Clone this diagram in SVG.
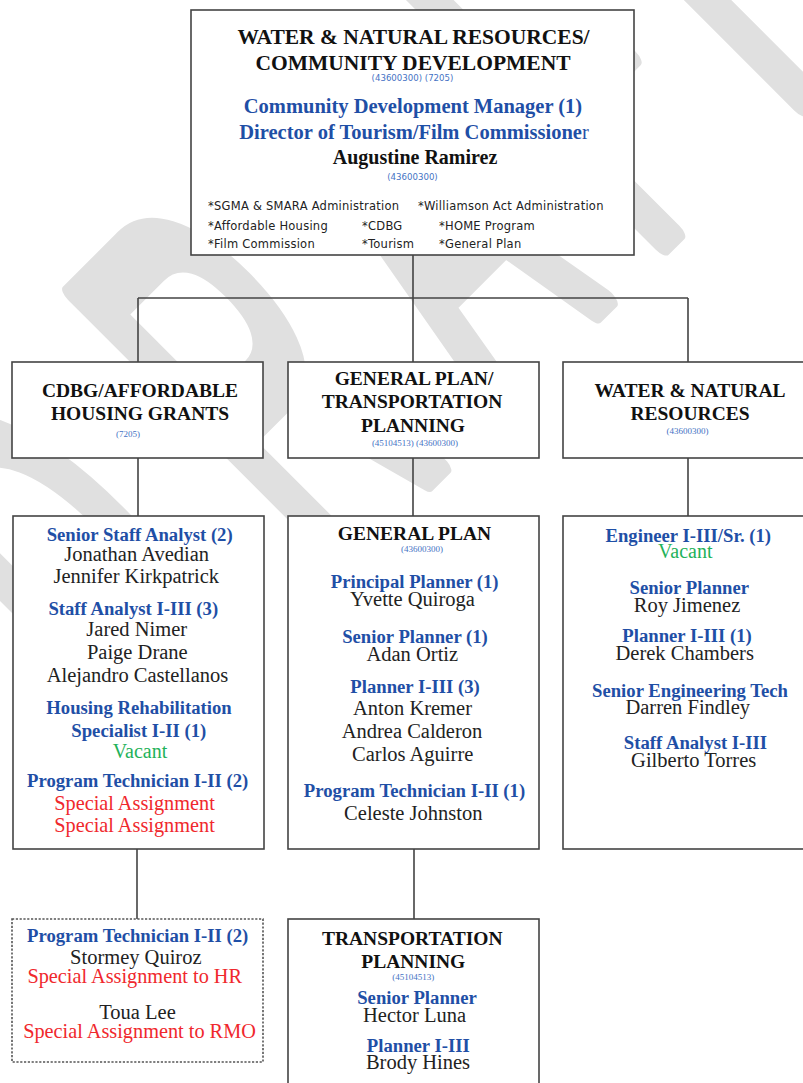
<svg xmlns="http://www.w3.org/2000/svg" width="803" height="1083" viewBox="0 0 803 1083">
<style>
.box{fill:#fff;stroke:#444;stroke-width:1.6}
.dash{fill:#fff;stroke:#555;stroke-width:1.6;stroke-dasharray:2.2 1.6}
.conn{fill:none;stroke:#444;stroke-width:1.6}
.wm{font-family:"Liberation Sans",sans-serif;font-size:552px;fill:#e0e0e0;stroke:#e0e0e0;stroke-width:20px;stroke-linejoin:round;vector-effect:non-scaling-stroke;text-anchor:start}
text{font-family:"Liberation Serif",serif;text-anchor:middle}
.h1{font-weight:bold;font-size:21.5px;fill:#111}
.tb{font-weight:bold;font-size:20.5px;fill:#1f4fa6}
.nb{font-weight:bold;font-size:20px;fill:#111}
.hd{font-weight:bold;font-size:19.5px;fill:#111}
.ttl{font-weight:bold;font-size:18.7px;fill:#1f4fa6}
.nm{font-size:20.5px;fill:#222}
.vac{font-size:20px;fill:#1fb25a}
.sa{font-size:20.3px;fill:#f0282d}
.code{font-size:9px;fill:#4472c4}
.cs{font-family:"DejaVu Sans",sans-serif;font-size:8.6px;fill:#4472c4}
.sm{font-family:"DejaVu Sans",sans-serif;font-size:11.5px;letter-spacing:0.25px;fill:#222;text-anchor:start}
</style>
<g id="watermark" transform="rotate(-45)">
<text class="wm" transform="translate(-439,640) scale(0.435,1)">D</text>
<text class="wm" transform="translate(-178,640) scale(0.435,1)">R</text>
<text class="wm" transform="translate(60,640) scale(0.435,1)">A</text>
<text class="wm" transform="translate(273,640) scale(0.435,1)">F</text>
<text class="wm" transform="translate(427,640) scale(0.435,1)">T</text>
</g>
<g id="connectors">
<path class="conn" d="M413,255 V298 M138,298 H688 M138,298 V362 M413,298 V362 M688,298 V362 M138,458 V516 M413,458 V516 M688,458 V516 M137,849 V919 M414,849 V919"/>
</g>
<g id="node-top">
<rect class="box" x="191" y="10" width="443" height="245"/>
<text class="h1" x="413.5" y="43.5">WATER &amp; NATURAL RESOURCES/</text>
<text class="h1" x="413" y="70">COMMUNITY DEVELOPMENT</text>
<text class="cs" x="412.5" y="80.5">(43600300) (7205)</text>
<text class="tb" x="413" y="113">Community Development Manager (1)</text>
<text class="tb" x="414" y="138.5">Director of Tourism/Film Commissione<tspan font-weight="normal">r</tspan></text>
<text class="nb" x="415" y="164">Augustine Ramirez</text>
<text class="cs" x="412.5" y="179.5">(43600300)</text>
<text class="sm" x="208" y="210">*SGMA &amp; SMARA Administration</text>
<text class="sm" x="418" y="210">*Williamson Act Administration</text>
<text class="sm" x="208" y="229.5">*Affordable Housing</text>
<text class="sm" x="362" y="229.5">*CDBG</text>
<text class="sm" x="439" y="229.5">*HOME Program</text>
<text class="sm" x="208" y="248">*Film Commission</text>
<text class="sm" x="362" y="248">*Tourism</text>
<text class="sm" x="439" y="248">*General Plan</text>
</g>
<g id="node-cdbg">
<rect class="box" x="12" y="362" width="251" height="96"/>
<text class="hd" x="140" y="396.5">CDBG/AFFORDABLE</text>
<text class="hd" x="140" y="420">HOUSING GRANTS</text>
<text class="code" x="128" y="437">(7205)</text>
</g>
<g id="node-gptp">
<rect class="box" x="288" y="362" width="251" height="96"/>
<text class="hd" x="414" y="385">GENERAL PLAN/</text>
<text class="hd" x="412" y="408.3">TRANSPORTATION</text>
<text class="hd" x="413" y="431.7">PLANNING</text>
<text class="code" x="415" y="445.5">(45104513) (43600300)</text>
</g>
<g id="node-wnr">
<rect class="box" x="563" y="362" width="245" height="96"/>
<text class="hd" x="690" y="396.5">WATER &amp; NATURAL</text>
<text class="hd" x="690" y="420">RESOURCES</text>
<text class="code" x="687.5" y="433.5">(43600300)</text>
</g>
<g id="node-cdbg-staff">
<rect class="box" x="13" y="516" width="251" height="333"/>
<text class="ttl" x="139.7" y="540.7">Senior Staff Analyst (2)</text>
<text class="nm" x="136.7" y="560.7">Jonathan Avedian</text>
<text class="nm" x="136.3" y="583.3">Jennifer Kirkpatrick</text>
<text class="ttl" x="133.3" y="615">Staff Analyst I-III (3)</text>
<text class="nm" x="136.7" y="636">Jared Nimer</text>
<text class="nm" x="137.3" y="658.5">Paige Drane</text>
<text class="nm" x="137.5" y="682">Alejandro Castellanos</text>
<text class="ttl" x="139" y="713.5">Housing Rehabilitation</text>
<text class="ttl" x="138.8" y="737">Specialist I-II (1)</text>
<text class="vac" x="140" y="758.3">Vacant</text>
<text class="ttl" x="137.7" y="786.7">Program Technician I-II (2)</text>
<text class="sa" x="134.5" y="809.5">Special Assignment</text>
<text class="sa" x="134.5" y="832">Special Assignment</text>
</g>
<g id="node-gp">
<rect class="box" x="288" y="516" width="251" height="333"/>
<text class="hd" x="414.5" y="540">GENERAL PLAN</text>
<text class="code" x="422" y="552">(43600300)</text>
<text class="ttl" x="414.7" y="588">Principal Planner (1)</text>
<text class="nm" x="412.5" y="605.5">Yvette Quiroga</text>
<text class="ttl" x="415" y="642.6">Senior Planner (1)</text>
<text class="nm" x="412.3" y="660.7">Adan Ortiz</text>
<text class="ttl" x="415" y="693.2">Planner I-III (3)</text>
<text class="nm" x="412.5" y="714.5">Anton Kremer</text>
<text class="nm" x="412" y="738.2">Andrea Calderon</text>
<text class="nm" x="412.7" y="760.8">Carlos Aguirre</text>
<text class="ttl" x="414.5" y="797.2">Program Technician I-II (1)</text>
<text class="nm" x="413.3" y="819.6">Celeste Johnston</text>
</g>
<g id="node-wnr-staff">
<rect class="box" x="563" y="516" width="245" height="333"/>
<text class="ttl" x="688.3" y="541.7">Engineer I-III/Sr. (1)</text>
<text class="vac" x="685.3" y="558.3">Vacant</text>
<text class="ttl" x="689.3" y="594">Senior Planner</text>
<text class="nm" x="687" y="611.7">Roy Jimenez</text>
<text class="ttl" x="687" y="641.7">Planner I-III (1)</text>
<text class="nm" x="684.7" y="660">Derek Chambers</text>
<text class="ttl" x="690" y="696.7">Senior Engineering Tech</text>
<text class="nm" x="687.8" y="714">Darren Findley</text>
<text class="ttl" x="695.5" y="749.3">Staff Analyst I-III</text>
<text class="nm" x="693.7" y="767.3">Gilberto Torres</text>
</g>
<g id="node-program-tech">
<rect class="dash" x="12" y="919" width="251" height="143"/>
<text class="ttl" x="137.7" y="941.7">Program Technician I-II (2)</text>
<text class="nm" x="135.8" y="964.3">Stormey Quiroz</text>
<text class="sa" x="134.7" y="983.3">Special Assignment to HR</text>
<text class="nm" x="137.5" y="1019">Toua Lee</text>
<text class="sa" x="139.5" y="1037.7">Special Assignment to RMO</text>
</g>
<g id="node-tp">
<rect class="box" x="288" y="919" width="251" height="175"/>
<text class="hd" x="412.2" y="945">TRANSPORTATION</text>
<text class="hd" x="413.3" y="967.7">PLANNING</text>
<text class="code" x="413.3" y="980">(45104513)</text>
<text class="ttl" x="417" y="1004">Senior Planner</text>
<text class="nm" x="414.5" y="1021.7">Hector Luna</text>
<text class="ttl" x="418.3" y="1051.7">Planner I-III</text>
<text class="nm" x="418" y="1069.3">Brody Hines</text>
</g>
</svg>
